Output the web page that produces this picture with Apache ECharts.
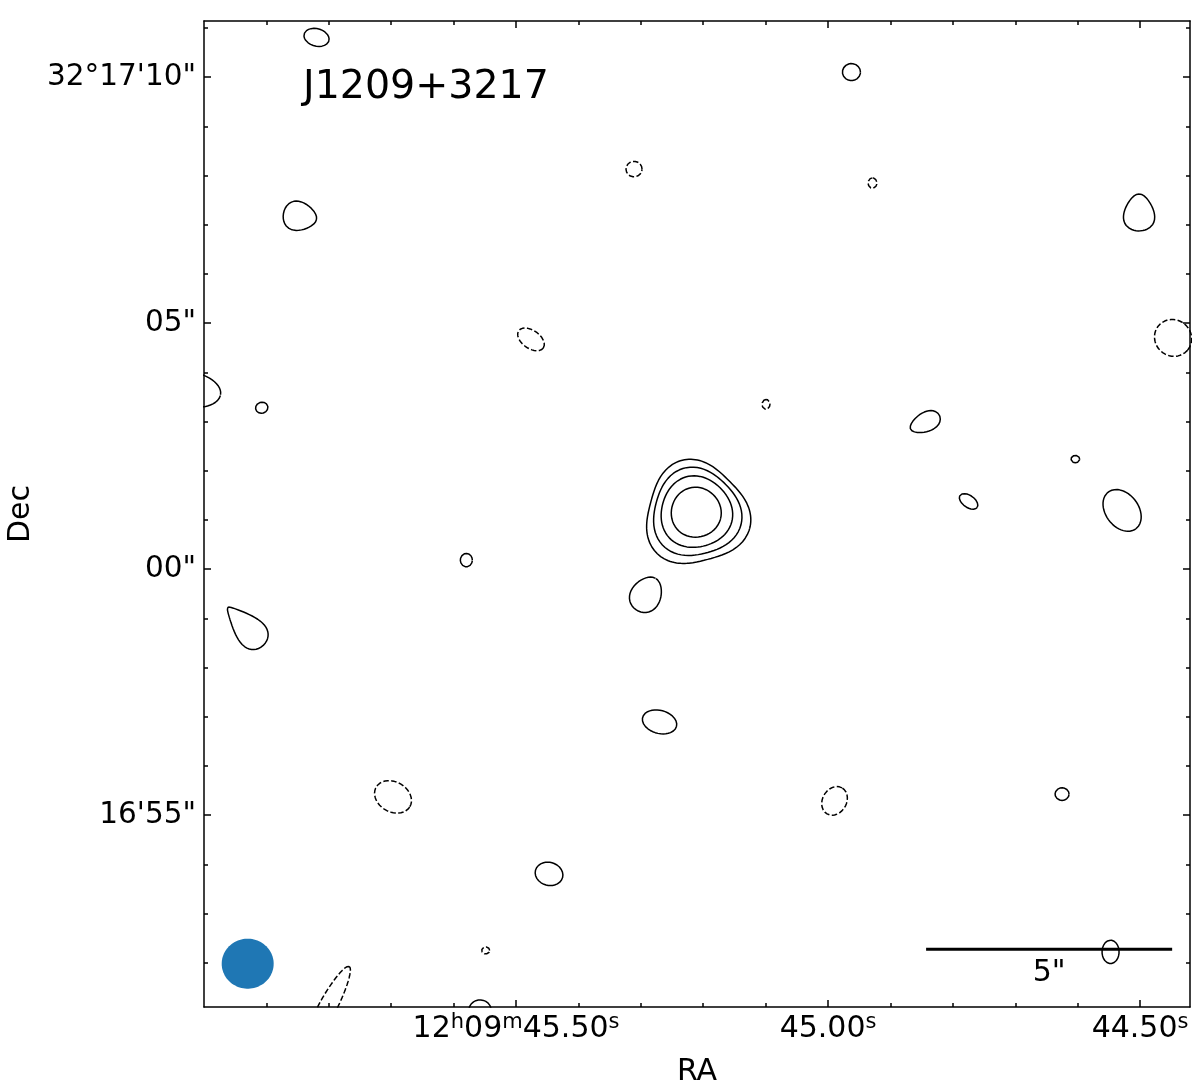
<!DOCTYPE html>
<html>
<head>
<meta charset="utf-8">
<title>J1209+3217</title>
<script src="https://cdn.jsdelivr.net/npm/echarts@6/dist/echarts.min.js"></script>
<style>
  html, body { margin: 0; padding: 0; background: #fff; }
  #chart { width: 1200px; height: 1090px; }
</style>
</head>
<body>
<div id="chart"></div>
<script>
const FONT = 'DejaVu Sans';
// arcsec of sky per second of RA at Dec +32°17'
const ARCSEC_PER_SEC = 15 * Math.cos((32 + 17 / 60) * Math.PI / 180);

// axis extents: RA in seconds of 12h09m, Dec in arcsec from 32°17'00"
const RA_RANGE = [44.42, 46.0];
const DEC_RANGE = [-8.9, 11.14];

const RA_MAJOR = [44.5, 45.0, 45.5];
const RA_MINOR = [44.6, 44.7, 44.8, 44.9, 45.1, 45.2, 45.3, 45.4, 45.6, 45.7, 45.8, 45.9];
const RA_LABELS = ['{n|44.50}{s|s}', '{n|45.00}{s|s}', '{n|12}{s|h}{n|09}{s|m}{n|45.50}{s|s}'];

const DEC_MAJOR = [-5, 0, 5, 10];
const DEC_MINOR = [-8, -7, -6, -4, -3, -2, -1, 1, 2, 3, 4, 6, 7, 8, 9, 11];
const DEC_LABELS = ["16'55\"", '00"', '05"', "32°17'10\""];

// contours: [ra (s), dec (arcsec), semi-major (arcsec), semi-minor (arcsec), angle (deg), skew, triangularity]
const positiveContours = [
  [45.8197, 10.807, 0.260, 0.177, -15, 0, 0],
  [44.9625, 10.102, 0.183, 0.173, 0, 0, 0],
  [45.8462, 7.169, 0.341, 0.289, -10, 0.25, 0],
  [44.5016, 7.250, 0.376, 0.305, 90, 0.3, 0],
  [46.0224, 3.652, 0.630, 0.354, -10, 0, 0],
  [45.9075, 3.280, 0.126, 0.112, 15, 0, 0],
  [44.8446, 2.982, 0.325, 0.193, 25, -0.2, 0],
  [44.6037, 2.236, 0.087, 0.075, 0, 0, 0],
  [44.7748, 1.376, 0.213, 0.122, -35, 0, 0],
  [44.5288, 1.193, 0.467, 0.335, -53, 0, 0],
  [45.5796, 0.183, 0.122, 0.136, 0, 0, 0],
  [45.2912, -0.514, 0.376, 0.305, 60, 0.15, 0],
  [45.9335, -1.165, 0.528, 0.264, 133, 0.6, 0],
  [45.2700, -3.106, 0.356, 0.234, -15, 0, 0],
  [44.6250, -4.573, 0.142, 0.128, 0, 0, 0],
  [45.4471, -6.195, 0.285, 0.234, -15, 0, 0],
  [44.5473, -7.780, 0.238, 0.173, 90, 0, 0],
  [45.5577, -8.959, 0.224, 0.203, 0, 0, 0]
];

// the target itself, four levels
const sourceContours = [
  [45.2115, 1.152, 0.508, 0.508, -15, 0, 0.012],
  [45.2115, 1.152, 0.725, 0.725, -15, 0, 0.035],
  [45.2115, 1.140, 0.890, 0.890, -15, 0, 0.060],
  [45.2115, 1.120, 1.040, 1.040, -15, 0, 0.085]
];

const negativeContours = [
  [45.3109, 8.130, 0.163, 0.158, 0, 0, 0],
  [44.9288, 7.846, 0.106, 0.089, 90, 0, 0],
  [45.4760, 4.669, 0.305, 0.183, -35, 0, 0],
  [44.4471, 4.699, 0.386, 0.366, -40, 0, 0],
  [45.0994, 3.348, 0.100, 0.080, 90, 0, 0],
  [45.6971, -4.630, 0.396, 0.305, -30, 0, 0],
  [44.9896, -4.711, 0.305, 0.244, 60, 0, 0],
  [45.5486, -7.750, 0.081, 0.071, 0, 0, 0],
  [45.7976, -8.800, 0.820, 0.180, 62, 0.15, 0]
];

const BEAM = [45.930, -8.020, 0.528, 0.508, 0, 0, 0];

const SCALEBAR_ARCSEC = 5;
const SCALEBAR_RA_END = 44.4486;
const SCALEBAR_DEC = -7.724;

function contourPoints(c, n) {
  const [ra, dec, a, b, pa, skew, tri] = c;
  const rot = pa * Math.PI / 180;
  const pts = [];
  for (let i = 0; i <= n; i++) {
    const t = i / n * 2 * Math.PI;
    const f = 1 + tri * Math.cos(3 * t);
    const u = a * Math.cos(t) * f;
    const v = b * Math.sin(t) * (1 - skew * Math.cos(t)) * f;
    const x = u * Math.cos(rot) - v * Math.sin(rot);
    const y = u * Math.sin(rot) + v * Math.cos(rot);
    // RA grows to the left
    pts.push([ra - x / ARCSEC_PER_SEC, dec + y]);
  }
  return pts;
}

function contourSeries(c, dashed) {
  return {
    type: 'line',
    data: contourPoints(c, 160),
    symbol: 'none',
    silent: true,
    clip: true,
    z: 3,
    lineStyle: { color: '#000', width: 1.5, type: dashed ? [5.5, 2.4] : 'solid' }
  };
}

function labelFor(values, labels, v) {
  const i = values.findIndex(x => Math.abs(x - v) < 1e-6);
  return i < 0 ? '' : labels[i];
}

function xAxis(position, ticks, len, withLabels) {
  return {
    type: 'value',
    position: position,
    min: RA_RANGE[0],
    max: RA_RANGE[1],
    inverse: true,
    splitLine: { show: false },
    axisLine: { show: len > 5, onZero: false, lineStyle: { color: '#000', width: 1.5 } },
    axisTick: { show: true, inside: true, length: len, customValues: ticks, lineStyle: { color: '#000', width: 1.5 } },
    axisLabel: withLabels ? {
      show: true,
      customValues: RA_MAJOR,
      margin: 5,
      formatter: v => labelFor(RA_MAJOR, RA_LABELS, v),
      rich: {
        n: { fontSize: 30, fontFamily: FONT, color: '#000', lineHeight: 34 },
        s: { fontSize: 21, fontFamily: FONT, color: '#000', lineHeight: 21, verticalAlign: 'top' }
      }
    } : { show: false },
    name: withLabels ? 'RA' : '',
    nameLocation: 'middle',
    nameGap: 50,
    nameTextStyle: { fontSize: 30, fontFamily: FONT, color: '#000' }
  };
}

function yAxis(position, ticks, len, withLabels) {
  return {
    type: 'value',
    position: position,
    min: DEC_RANGE[0],
    max: DEC_RANGE[1],
    splitLine: { show: false },
    axisLine: { show: len > 5, onZero: false, lineStyle: { color: '#000', width: 1.5 } },
    axisTick: { show: true, inside: true, length: len, customValues: ticks, lineStyle: { color: '#000', width: 1.5 } },
    axisLabel: withLabels ? {
      show: true,
      customValues: DEC_MAJOR,
      margin: 8,
      fontSize: 29.5,
      fontFamily: FONT,
      color: '#000',
      formatter: v => labelFor(DEC_MAJOR, DEC_LABELS, v)
    } : { show: false },
    name: withLabels ? 'Dec' : '',
    nameLocation: 'middle',
    nameRotate: 90,
    nameGap: 165,
    nameTextStyle: { fontSize: 30, fontFamily: FONT, color: '#000' }
  };
}

const series = [];
positiveContours.forEach(c => series.push(contourSeries(c, false)));
sourceContours.forEach(c => series.push(contourSeries(c, false)));
negativeContours.forEach(c => series.push(contourSeries(c, true)));

// synthesized beam
series.push({
  type: 'custom',
  silent: true,
  data: [[BEAM[0], BEAM[1]]],
  encode: { x: 0, y: 1 },
  z: 4,
  renderItem: (params, api) => ({
    type: 'polygon',
    shape: { points: contourPoints(BEAM, 90).map(p => api.coord(p)) },
    style: { fill: '#1f77b4' }
  })
});

// 5" scale bar
const barStart = SCALEBAR_RA_END + SCALEBAR_ARCSEC / ARCSEC_PER_SEC;
series.push({
  type: 'line',
  data: [[barStart, SCALEBAR_DEC], [SCALEBAR_RA_END, SCALEBAR_DEC]],
  symbol: 'none',
  silent: true,
  z: 4,
  lineStyle: { color: '#000', width: 3 }
});
series.push({
  type: 'scatter',
  data: [[(barStart + SCALEBAR_RA_END) / 2, SCALEBAR_DEC]],
  symbolSize: 0,
  silent: true,
  itemStyle: { color: '#000', opacity: 1 },
  label: {
    show: true,
    position: 'inside',
    offset: [0, 24],
    formatter: SCALEBAR_ARCSEC + '"',
    fontSize: 30,
    fontFamily: FONT,
    color: '#000',
    opacity: 1,
    textBorderWidth: 0
  }
});

const chart = echarts.init(document.getElementById('chart'), null, { renderer: 'canvas' });
chart.setOption({
  animation: false,
  backgroundColor: '#fff',
  title: {
    text: 'J1209+3217',
    left: 298,
    top: 63,
    textStyle: { fontSize: 39.5, fontWeight: 'normal', fontFamily: FONT, color: '#000' }
  },
  grid: { left: 204, right: 10, top: 21, bottom: 83, containLabel: false, outerBoundsMode: 'none' },
  xAxis: [
    xAxis('bottom', RA_MAJOR, 7, true),
    xAxis('bottom', RA_MINOR, 4, false),
    xAxis('top', RA_MAJOR, 7, false),
    xAxis('top', RA_MINOR, 4, false)
  ],
  yAxis: [
    yAxis('left', DEC_MAJOR, 7, true),
    yAxis('left', DEC_MINOR, 4, false),
    yAxis('right', DEC_MAJOR, 7, false),
    yAxis('right', DEC_MINOR, 4, false)
  ],
  series: series
});

window.addEventListener('resize', () => chart.resize());
</script>
</body>
</html>
